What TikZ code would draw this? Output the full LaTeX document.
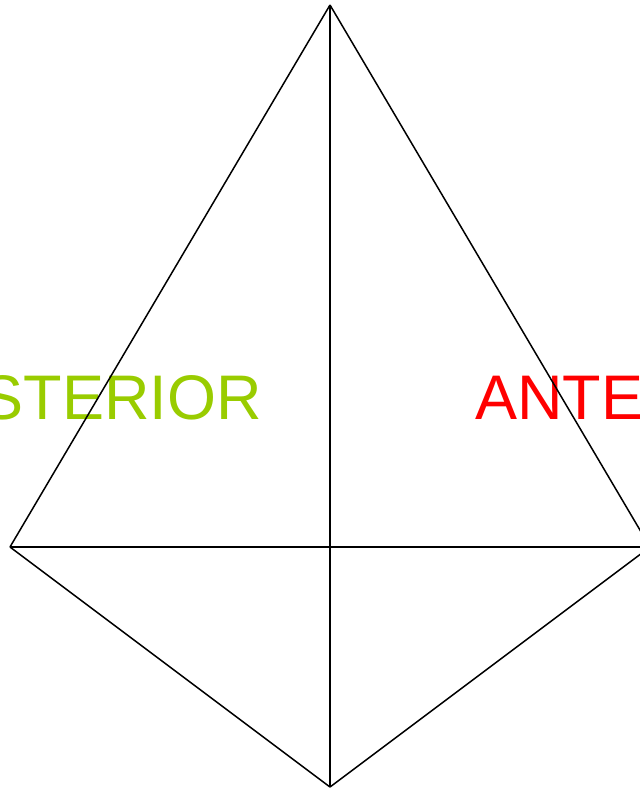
\documentclass[tikz,border=0pt]{standalone}
\usepackage{fontspec}
\setmainfont{Liberation Sans}
\usetikzlibrary{positioning}
\definecolor{postgreen}{HTML}{99CC00}
\definecolor{antred}{HTML}{FF0000}
\tikzset{
  label text/.style={inner sep=0pt, font=\fontsize{63}{63}\selectfont},
  edge line/.style={draw, line width=1.5pt},
}

\begin{document}
\begin{tikzpicture}[x=1pt, y=-1pt]
      \useasboundingbox (0,0) rectangle (640,790);
      \clip (0,0) rectangle (640,790);

      % --- Corners ---
      \coordinate (apex) at (330,5);
      \coordinate (left) at (10,547);
      \coordinate (right) at (650,547);
      \coordinate (bottom) at (330,787);
      \coordinate (mid) at (330,547);

      % --- Labels (drawn under the lines) ---
      \node[label text, text=postgreen, anchor=base east] (post) at (262,419) {POSTERIOR};
      \node[label text, text=antred, anchor=base west] (ant) at (475,419) {ANTERIOR};

      % --- Edges ---
      \path[edge line]
      (apex) edge (left)
      (apex) edge (right)
      (left) edge (bottom)
      (right) edge (bottom)
      (apex) edge (bottom)
      (left) edge (right);

    \end{tikzpicture}
\end{document}
